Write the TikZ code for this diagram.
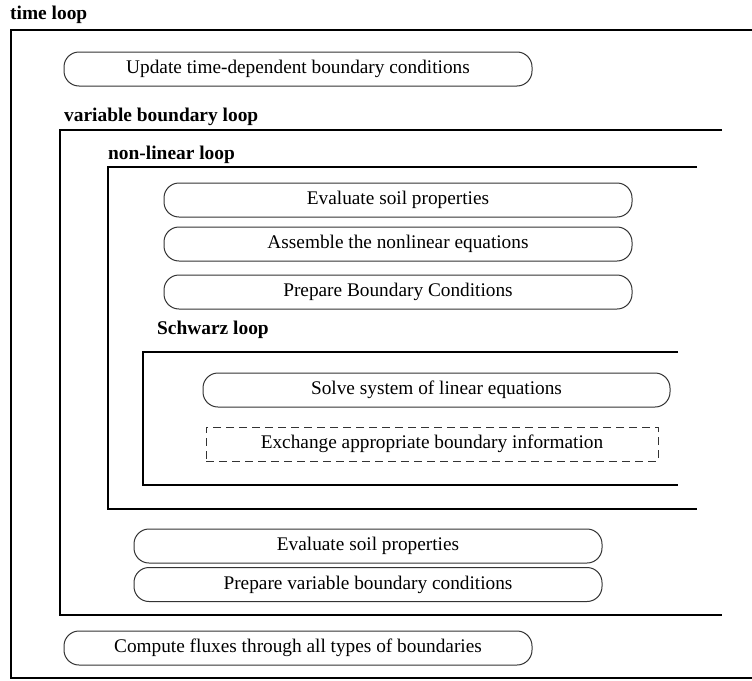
\documentclass[tikz,border=0pt]{standalone}
\usepackage{fontspec}
\setmainfont{Liberation Serif}
\begin{document}
\begin{tikzpicture}[x=1pt,y=-1pt,
  loopline/.style={line width=2.8pt, black},
  looplabel/.style={anchor=west, inner sep=0pt, font=\fontsize{19.4}{22}\selectfont\bfseries},
  stepbox/.style={draw=black!80, line width=1pt, rounded corners=15pt, minimum height=34pt, inner sep=0pt, font=\fontsize{19.3}{22}\selectfont},
  dashbox/.style={draw=black!80, line width=1pt, dash pattern=on 8pt off 5pt, minimum height=34pt, inner sep=0pt, font=\fontsize{19.3}{22}\selectfont}
]
\useasboundingbox (0,0) rectangle (752,680);
% time loop
\node[looplabel] (tl) at (10,15) {time loop};
\draw[loopline] (753,30) -- (11,30) -- (11,678) -- (753,678);
\node[stepbox, minimum width=468pt] (upd) at (298,69) {Update time-dependent boundary conditions};
% variable boundary loop
\node[looplabel] (vbl) at (64,117) {variable boundary loop};
\draw[loopline] (722,130) -- (60,130) -- (60,615) -- (722,615);
% non-linear loop
\node[looplabel] (nll) at (108,155) {non-linear loop};
\draw[loopline] (697,167) -- (108,167) -- (108,509) -- (697,509);
\node[stepbox, minimum width=468pt] (esp1) at (398,200) {Evaluate soil properties};
\node[stepbox, minimum width=468pt] (ane) at (398,244) {Assemble the nonlinear equations};
\node[stepbox, minimum width=468pt] (pbc) at (398,292) {Prepare Boundary Conditions};
% Schwarz loop
\node[looplabel] (swl) at (157,330) {Schwarz loop};
\draw[loopline] (678,352) -- (143,352) -- (143,485) -- (678,485);
\node[stepbox, minimum width=467pt] (sle) at (436.5,390) {Solve system of linear equations};
\node[dashbox, minimum width=452pt] (exb) at (432,444) {Exchange appropriate boundary information};
% after non-linear loop
\node[stepbox, minimum width=468pt] (esp2) at (368,546) {Evaluate soil properties};
\node[stepbox, minimum width=468pt] (pvb) at (368,584.5) {Prepare variable boundary conditions};
% after variable boundary loop
\node[stepbox, minimum width=468pt] (cfx) at (298,648) {Compute fluxes through all types of boundaries};
\end{tikzpicture}
\end{document}
